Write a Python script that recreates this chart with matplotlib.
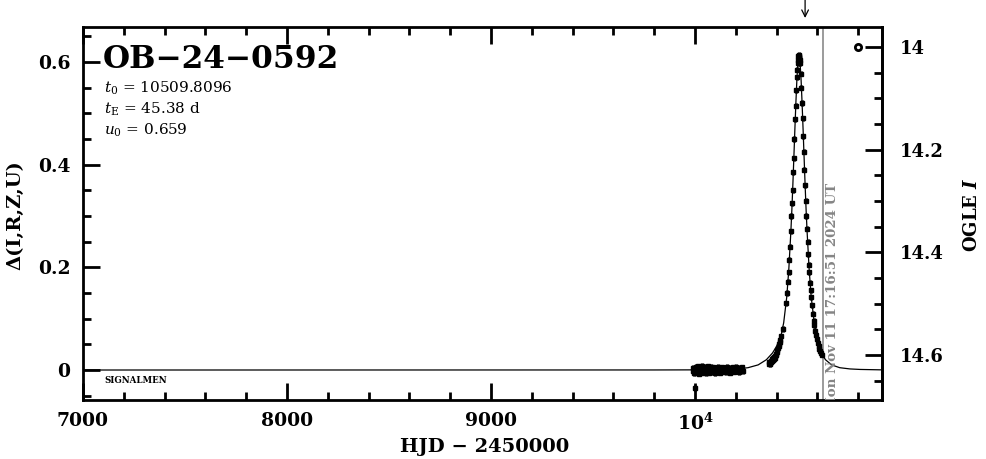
import matplotlib
matplotlib.use("Agg")
import matplotlib.pyplot as plt
from matplotlib.ticker import FixedLocator, MultipleLocator
import matplotlib.transforms as mtransforms

plt.rcParams['font.family'] = ['DejaVu Serif']
plt.rcParams['mathtext.fontset'] = 'dejavuserif'

# ---------------- data ----------------
EVENT_NAME = "OB\u221224\u22120592"
PARAM_T0 = "10509.8096"
PARAM_TE = "45.38"
PARAM_U0 = "0.659"
DATE_TEXT = "Mon Nov 11 17:16:51 2024 UT"
NOW_HJD = 10626.2
ARROW_HJD = 10540.0
I_BASE = 14.629   # OGLE I magnitude at delta = 0

# model curve (HJD-2450000, delta mag)
MODEL_T = [7000, 9800, 10000, 10110, 10210, 10260, 10310, 10350, 10380, 10400, 10420,
           10435, 10450, 10460, 10470, 10475, 10480, 10485, 10490, 10495, 10500,
           10505, 10510, 10515, 10520, 10525, 10530, 10535, 10540, 10545, 10550,
           10560, 10570, 10585, 10600, 10620, 10640, 10670, 10710, 10760, 10810,
           10917]
MODEL_D = [0.0, 0.0001, 0.0003, 0.0011, 0.0021, 0.0045, 0.010, 0.020, 0.033, 0.046,
           0.063, 0.092, 0.142, 0.195, 0.268, 0.311, 0.361, 0.415, 0.470, 0.522,
           0.568, 0.600, 0.610, 0.600, 0.568, 0.522, 0.470, 0.415, 0.361, 0.311,
           0.268, 0.195, 0.142, 0.092, 0.056, 0.033, 0.020, 0.010, 0.0045, 0.0021,
           0.0011, 0.0003]

# OGLE data points (HJD-2450000, delta mag)
OGLE_T = [10000, 9988, 9992, 9995, 9998, 10001, 10004, 10007, 10010, 10013, 10016,
          10019, 10022, 10025, 10028, 10031, 10034, 10037, 10040, 10043, 10046,
          10049, 10052, 10055, 10058, 10061, 10064, 10067, 10070, 10073, 10076,
          10079, 10082, 10085, 10088, 10091, 10094, 10097, 10100, 10104, 10108,
          10112, 10116, 10120, 10124, 10128, 10132, 10136, 10140, 10145, 10150,
          10155, 10160, 10165, 10170, 10175, 10180, 10185, 10190, 10195, 10200,
          10205, 10210, 10215, 10220, 10225, 10230, 10235,
          10362, 10364, 10366, 10368, 10370, 10372, 10374, 10376, 10378, 10380,
          10382, 10384, 10386, 10388, 10390, 10392, 10395, 10398, 10401, 10404,
          10407, 10410, 10413, 10416, 10419, 10424, 10431, 10446, 10452, 10456,
          10459, 10463, 10466, 10470, 10473, 10476, 10479, 10482, 10485, 10488,
          10491, 10494, 10497, 10500, 10502, 10504, 10506, 10507, 10508, 10509,
          10510, 10511, 10512, 10514, 10516, 10519, 10522, 10525, 10528, 10531,
          10534, 10537, 10540, 10543, 10546, 10549, 10552, 10555, 10558, 10561,
          10564, 10567, 10570, 10574, 10578, 10582, 10586, 10590, 10594, 10598,
          10602, 10606, 10610, 10614, 10618, 10621]
OGLE_D = [-0.035, -0.002, 0.004, -0.006, 0.003, -0.003, 0.006, -0.005, 0.002, 0.007,
          -0.004, 0.001, -0.007, 0.005, -0.002, 0.004, -0.005, 0.008, 0.000, -0.004,
          0.005, -0.001, 0.006, -0.006, 0.003, -0.002, 0.007, 0.001, -0.005, 0.004,
          -0.003, 0.006, 0.000, -0.004, 0.005, -0.002, 0.003, -0.006, 0.004, 0.001,
          -0.003, 0.006, -0.002, 0.003, -0.005, 0.002, 0.005, -0.003, 0.001, 0.004,
          -0.004, 0.006, -0.001, 0.003, -0.005, 0.004, 0.000, 0.005, -0.003, 0.002,
          0.006, -0.002, 0.004, -0.004, 0.003, 0.001, 0.005, -0.002,
          0.012, 0.015, 0.011, 0.016, 0.014, 0.018, 0.016, 0.019, 0.017, 0.021,
          0.019, 0.023, 0.021, 0.025, 0.024, 0.027, 0.029, 0.032, 0.035, 0.038,
          0.042, 0.046, 0.050, 0.054, 0.058, 0.066, 0.080, 0.130, 0.150, 0.172,
          0.190, 0.215, 0.240, 0.270, 0.300, 0.325, 0.350, 0.385, 0.412, 0.450,
          0.488, 0.515, 0.545, 0.570, 0.585, 0.598, 0.604, 0.612, 0.608, 0.614,
          0.610, 0.606, 0.611, 0.603, 0.597, 0.577, 0.550, 0.520, 0.490, 0.455,
          0.425, 0.390, 0.360, 0.330, 0.300, 0.275, 0.250, 0.225, 0.205, 0.190,
          0.170, 0.155, 0.142, 0.126, 0.110, 0.096, 0.087, 0.076, 0.068, 0.060,
          0.052, 0.047, 0.041, 0.037, 0.033, 0.030]
OGLE_ERR = 0.005

X_MAJOR = [7000, 8000, 9000, 10000]
X_LABELS = ["7000", "8000", "9000", r"$\mathbf{10^4}$"]
Y_MAJOR = [0.0, 0.2, 0.4, 0.6]
Y_LABELS = ["0", "0.2", "0.4", "0.6"]
R_MAJOR = [14.0, 14.2, 14.4, 14.6]
R_LABELS = ["14", "14.2", "14.4", "14.6"]

# ---------------- figure ----------------
W, H = 986, 459
fig = plt.figure(figsize=(W / 100, H / 100), dpi=100)
L, R, T, B = 83, 882, 27, 400
ax = fig.add_axes([L / W, 1 - B / H, (R - L) / W, (B - T) / H])
ax.set_xlim(7000, 10917)
ax.set_ylim(-0.0584, 0.668)

for s in ax.spines.values():
    s.set_linewidth(2.0)


def ay(py):
    return (B - py) / (B - T)


def axx(px):
    return (px - L) / (R - L)


# model and data
ax.plot(MODEL_T, MODEL_D, color='black', lw=0.9, zorder=2)
ax.errorbar(OGLE_T, OGLE_D, yerr=OGLE_ERR, fmt='s', ms=2.6, color='black',
            ecolor='black', elinewidth=2.2, capsize=0, zorder=3)

# current time line
ax.axvline(NOW_HJD, color='#8a8a8a', lw=1.2, zorder=1)
trans_txt = mtransforms.offset_copy(ax.get_xaxis_transform(), fig=fig, x=3, y=0, units='dots')
ax.text(NOW_HJD, -0.03, DATE_TEXT, transform=trans_txt, rotation=90,
        ha='left', va='bottom', color='#858585', fontsize=9.6, fontweight='bold',
        clip_on=True)

# ticks
ax.xaxis.set_major_locator(FixedLocator(X_MAJOR))
ax.set_xticklabels(X_LABELS)
ax.xaxis.set_minor_locator(MultipleLocator(200))
ax.yaxis.set_major_locator(FixedLocator(Y_MAJOR))
ax.set_yticklabels(Y_LABELS)
ax.yaxis.set_minor_locator(MultipleLocator(0.05))
ax.tick_params(which='both', direction='in', top=True, right=False, width=2.0)
ax.tick_params(which='major', length=12)
ax.tick_params(which='minor', length=6)
ax.tick_params(axis='x', which='major', pad=9, labelsize=13.5)
ax.tick_params(axis='y', which='major', pad=9, labelsize=13.5)
for lab in ax.get_xticklabels() + ax.get_yticklabels():
    lab.set_fontweight('bold')

# right axis: OGLE I
sec = ax.secondary_yaxis('right', functions=(lambda d: I_BASE - d, lambda m: I_BASE - m))
sec.yaxis.set_major_locator(FixedLocator(R_MAJOR))
sec.set_yticklabels(R_LABELS)
sec.yaxis.set_minor_locator(MultipleLocator(0.05))
sec.tick_params(which='both', direction='in', width=2.0)
sec.tick_params(which='major', length=12, pad=13, labelsize=13)
sec.tick_params(which='minor', length=6)
sec.spines['right'].set_linewidth(2.0)
for lab in sec.get_yticklabels():
    lab.set_fontweight('bold')

# axis labels placed as free texts at their reference positions
fig.text(485 / W, 1 - 447 / H, "HJD \u2212 2450000", fontsize=14, fontweight='bold',
         ha='center', va='center')
fig.text(15 / W, 1 - 215 / H, "\u0394(I,R,Z,U)", fontsize=14, fontweight='bold',
         ha='center', va='center', rotation=90)
fig.text(972 / W, 1 - 215 / H, r"OGLE $\mathbfit{I}$", fontsize=13, fontweight='bold',
         ha='center', va='center', rotation=90)

# annotations
ax.text(axx(103), ay(68), EVENT_NAME, transform=ax.transAxes, fontsize=22.5,
        fontweight='bold', ha='left', va='baseline')
ax.text(axx(104), ay(93), r"$t_0$ = " + PARAM_T0, transform=ax.transAxes,
        fontsize=11, ha='left', va='baseline')
ax.text(axx(104), ay(114), r"$t_\mathrm{E}$ = " + PARAM_TE + " d", transform=ax.transAxes,
        fontsize=11, ha='left', va='baseline')
ax.text(axx(104), ay(135), r"$u_0$ = " + PARAM_U0, transform=ax.transAxes,
        fontsize=11, ha='left', va='baseline')
ax.text(axx(104), ay(383), "SIGNALMEN", transform=ax.transAxes, fontsize=6.2,
        fontweight='bold', ha='left', va='baseline')

# OGLE legend symbol
ax.plot([axx(858)], [ay(47)], marker='o', ms=4.5, mfc='white', mec='black', mew=2,
        transform=ax.transAxes, clip_on=False)

# arrow above the plot
ax.annotate("", xy=(ARROW_HJD, ay(18)), xytext=(ARROW_HJD, ay(0)),
            xycoords=ax.get_xaxis_transform(), textcoords=ax.get_xaxis_transform(),
            arrowprops=dict(arrowstyle='->', lw=0.9, color='black',
                            shrinkA=0, shrinkB=0, mutation_scale=12),
            annotation_clip=False)

fig.savefig("out.png", dpi=100)
